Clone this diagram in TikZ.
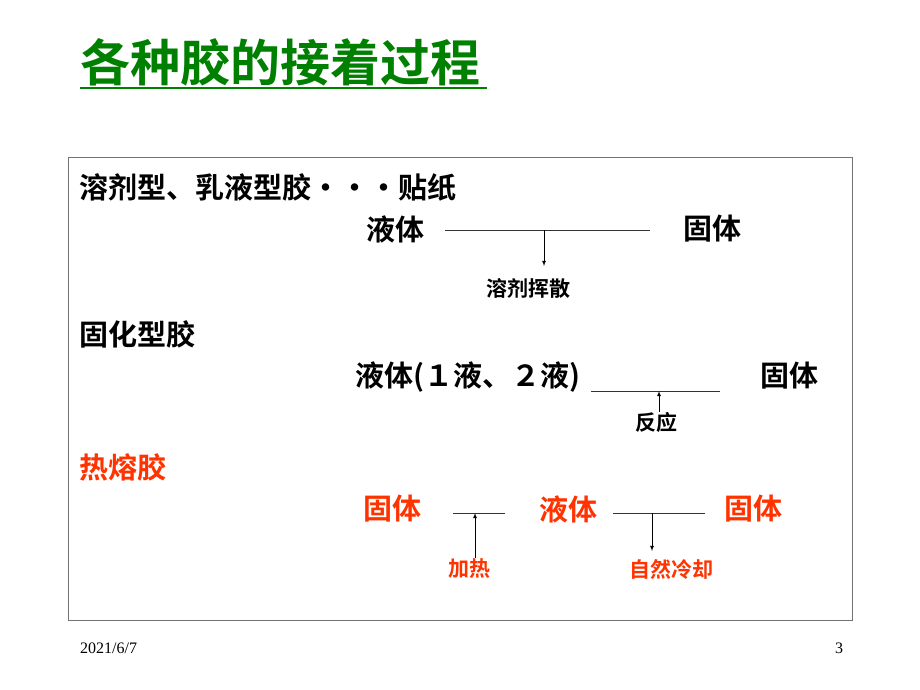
\documentclass[tikz,border=0pt]{standalone}
\usepackage{fontspec}
\newfontfamily\cjk{Noto Sans CJK SC}[BoldFont={Noto Sans CJK SC Bold}]
\setmainfont{Liberation Serif}
\definecolor{tgreen}{RGB}{0,128,0}
\definecolor{tred}{RGB}{255,51,0}
\begin{document}
\begin{tikzpicture}[x=1pt,y=-1pt,
  big/.style={inner sep=0,font=\cjk\bfseries\fontsize{29}{32}\selectfont},
  small/.style={inner sep=0,font=\cjk\bfseries\fontsize{21}{24}\selectfont},
  ln/.style={draw=black!80,line width=0.8pt},
  arr/.style={draw=black,line width=0.8pt,-latex}]
\useasboundingbox (0,0) rectangle (920,690);
\fill[white] (0,0) rectangle (920,690);
\node[inner sep=0,anchor=west,text=tgreen,font=\cjk\bfseries\fontsize{50}{54}\selectfont] (title) at (80,62) {各种胶的接着过程};
\draw[tgreen,line width=2pt] (80,88) -- (487,88);
\draw[draw=black!55,line width=1pt] (68,157) rectangle (852,620);
\node[big,anchor=west] (t1) at (79,187) {溶剂型、乳液型胶・・・贴纸};
\node[big] (a1) at (395,229) {液体};
\node[big] (b1) at (712,229) {固体};
\coordinate (l1a) at (445,230); \coordinate (l1b) at (650,230);
\draw[ln] (l1a) -- (l1b);
\node[small] (c1) at (528,288) {溶剂挥散};
\coordinate (m1) at (544,230);
\draw[arr] (m1) -- (544,266);
\node[big,anchor=west] (t2) at (79,334) {固化型胶};
\node[big,anchor=west] (a2) at (355,377) {液体(１液、２液)};
\node[big] (b2) at (789,376) {固体};
\coordinate (l2a) at (591,391); \coordinate (l2b) at (720,391);
\draw[ln] (l2a) -- (l2b);
\node[small] (c2) at (656,422) {反应};
\draw[arr] (659,412) -- (659,391);
\node[big,anchor=west,text=tred] (t3) at (79,467) {热熔胶};
\node[big,text=tred] (a3) at (392,509) {固体};
\node[big,text=tred] (b3) at (568,509) {液体};
\node[big,text=tred] (d3) at (753,509) {固体};
\draw[ln] (453,513) -- (505,513);
\draw[ln] (613,513) -- (705,513);
\node[small,text=tred] (c3) at (469,569) {加热};
\node[small,text=tred] (c4) at (671,569) {自然冷却};
\draw[arr] (475,558) -- (475,513);
\draw[arr] (652,513) -- (652,551);
\node[inner sep=0,anchor=west,font=\fontsize{16}{18}\selectfont] (date) at (80,648) {2021/6/7};
\node[inner sep=0,font=\fontsize{16}{18}\selectfont] (pg) at (839,648) {3};
\end{tikzpicture}
\end{document}
